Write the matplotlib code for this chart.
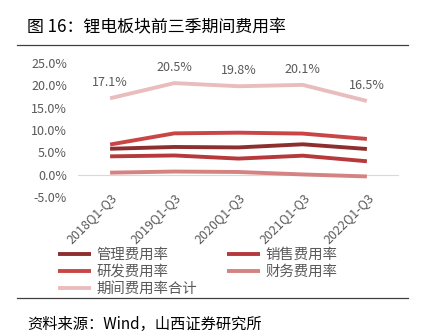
import matplotlib.pyplot as plt
from matplotlib.ticker import FuncFormatter

plt.rcParams['font.family'] = ['Noto Sans CJK SC', 'DejaVu Sans']

periods = ["2018Q1-Q3", "2019Q1-Q3", "2020Q1-Q3", "2021Q1-Q3", "2022Q1-Q3"]
mgmt_rate = [5.8, 6.2, 6.1, 6.8, 5.75]
sales_rate = [4.1, 4.3, 3.6, 4.25, 3.0]
rd_rate = [6.75, 9.25, 9.4, 9.2, 8.0]
fin_rate = [0.45, 0.7, 0.6, 0.05, -0.4]
total_rate = [17.1, 20.5, 19.8, 20.1, 16.5]

series = [
    ("管理费用率", mgmt_rate, "#8e2f2f"),
    ("销售费用率", sales_rate, "#b63a3b"),
    ("研发费用率", rd_rate, "#c94646"),
    ("财务费用率", fin_rate, "#d58282"),
    ("期间费用率合计", total_rate, "#e9bdbd"),
]

fig = plt.figure(figsize=(4.22, 3.32), dpi=100)
ax = fig.add_axes([78 / 422, 1 - 197 / 332, 321 / 422, 134 / 332])

x = range(len(periods))
lines = {}
for name, vals, color in series:
    lines[name], = ax.plot(x, vals, color=color, lw=2.8, label=name, solid_capstyle="butt")

for i, v in enumerate(total_rate):
    ax.text(i, v + 2.0, f"{v:.1f}%", ha="center", va="bottom", fontsize=9, color="#595959")

ax.axhline(0, color="#d9d9d9", lw=0.8, zorder=0)
ax.set_xlim(-0.5, len(periods) - 0.5)
ax.set_ylim(-5, 25)
ax.set_yticks([-5, 0, 5, 10, 15, 20, 25])
ax.yaxis.set_major_formatter(FuncFormatter(lambda v, _: f"{v:.1f}%"))
ax.set_xticks(list(x))
ax.set_xticklabels(periods, rotation=45, ha="right", rotation_mode="anchor")
ax.tick_params(axis="both", length=0, labelsize=9, colors="#595959")
ax.tick_params(axis="y", pad=8)
ax.tick_params(axis="x", pad=-4)
for s in ax.spines.values():
    s.set_visible(False)

# two columns, filled row by row
order = ["管理费用率", "研发费用率", "期间费用率合计", "销售费用率", "财务费用率"]
fig.legend([lines[n] for n in order], order, loc="upper left",
           bbox_to_anchor=(58 / 422, 1 - 248 / 332),
           ncol=2, frameon=False, fontsize=10.4, labelcolor="#595959",
           handlelength=2.3, handletextpad=0.35, columnspacing=2.1, labelspacing=0.2,
           borderpad=0, borderaxespad=0)

fig.text(27 / 422, 1 - 27 / 332, "图 16：锂电板块前三季期间费用率", fontsize=12.2,
         va="center", ha="left", color="black")
fig.add_artist(plt.Line2D([17 / 422, 408 / 422], [1 - 45 / 332] * 2, color="#404040", lw=0.9))
fig.add_artist(plt.Line2D([17 / 422, 408 / 422], [1 - 298 / 332] * 2, color="#404040", lw=0.9))
fig.text(27 / 422, 1 - 324 / 332, "资料来源：Wind，山西证券研究所", fontsize=11,
         va="center", ha="left", color="black")

fig.savefig("out.png", dpi=100)
